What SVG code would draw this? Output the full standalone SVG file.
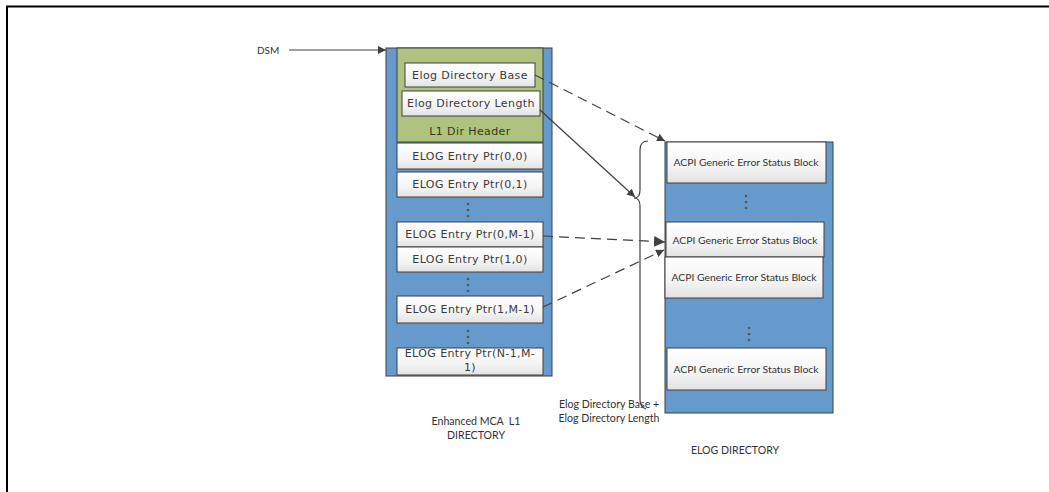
<svg xmlns="http://www.w3.org/2000/svg" width="1049" height="492" viewBox="0 0 1049 492">
<style>
.blue{fill:#6699cc;stroke:#404040;stroke-width:1}
.green{fill:#afc27f;stroke:#404040;stroke-width:1}
.box{fill:url(#wg);stroke:#404040;stroke-width:1}
.lt{font-family:"DejaVu Sans",Verdana,sans-serif;font-size:11px;letter-spacing:0.4px;fill:#3a3a3a;text-anchor:middle}
.rt{font-family:Lato,"Open Sans",sans-serif;font-size:10.4px;fill:#333;text-anchor:middle}
.cap{font-family:Lato,"Open Sans",sans-serif;font-size:10.6px;fill:#333;text-anchor:middle}
.dot{fill:#555}
.con{fill:none;stroke:#404040;stroke-width:1.2}
.dash{stroke-dasharray:10 6}
</style>
<defs>
<linearGradient id="wg" x1="0" y1="0" x2="0" y2="1">
<stop offset="0" stop-color="#ffffff"/>
<stop offset="0.6" stop-color="#f4f4f4"/>
<stop offset="1" stop-color="#e2e2e2"/>
</linearGradient>
<clipPath id="clipLast"><rect x="397" y="348" width="146" height="27"/></clipPath>
<marker id="ah" viewBox="0 0 10 10" refX="10" refY="5" markerWidth="8" markerHeight="8" markerUnits="userSpaceOnUse" orient="auto">
<path d="M0,0 L10,5 L0,10 z" fill="#404040"/>
</marker>
<marker id="ahb" viewBox="0 0 10 10" refX="10" refY="5" markerWidth="11" markerHeight="11" markerUnits="userSpaceOnUse" orient="auto">
<path d="M0,0 L10,5 L0,10 z" fill="#404040"/>
</marker>
</defs>
<rect x="0" y="0" width="1049" height="492" fill="#ffffff"/>
<path d="M7,492 L7,6.5 L1049,6.5" fill="none" stroke="#000" stroke-width="2"/>

<g id="dsm"><text x="257" y="54" class="cap" style="text-anchor:start;font-size:10px">DSM</text></g>

<g id="l1dir">
<rect class="blue" x="386" y="48" width="166" height="328"/>
<rect class="green" x="397" y="48" width="146" height="94"/>
<text class="lt" x="470" y="135" style="fill:#2f3a1a">L1 Dir Header</text>
</g>
<g id="elogBase"><rect class="box" x="405" y="63" width="130" height="24"/><text class="lt" x="470" y="79">Elog Directory Base</text></g>
<g id="elogLength"><rect class="box" x="402" y="91" width="138" height="25"/><text class="lt" x="471" y="107">Elog Directory Length</text></g>
<g id="ptr00"><rect class="box" x="397" y="143" width="146" height="26"/><text class="lt" x="470" y="160">ELOG Entry Ptr(0,0)</text></g>
<g id="ptr01"><rect class="box" x="397" y="172" width="146" height="25"/><text class="lt" x="470" y="188">ELOG Entry Ptr(0,1)</text></g>
<g id="dots1"><circle class="dot" cx="468" cy="204" r="1.3"/><circle class="dot" cx="468" cy="210" r="1.3"/><circle class="dot" cx="468" cy="216" r="1.3"/></g>
<g id="ptr0m1"><rect class="box" x="397" y="222" width="146" height="25"/><text class="lt" x="470" y="238">ELOG Entry Ptr(0,M-1)</text></g>
<g id="ptr10"><rect class="box" x="397" y="247" width="146" height="25"/><text class="lt" x="470" y="263">ELOG Entry Ptr(1,0)</text></g>
<g id="dots2"><circle class="dot" cx="468" cy="279" r="1.3"/><circle class="dot" cx="468" cy="285" r="1.3"/><circle class="dot" cx="468" cy="291" r="1.3"/></g>
<g id="ptr1m1"><rect class="box" x="397" y="296" width="146" height="27"/><text class="lt" x="470" y="313">ELOG Entry Ptr(1,M-1)</text></g>
<g id="dots3"><circle class="dot" cx="468" cy="331" r="1.3"/><circle class="dot" cx="468" cy="337" r="1.3"/><circle class="dot" cx="468" cy="343" r="1.3"/></g>
<g id="ptrn1m1"><rect class="box" x="397" y="348" width="146" height="27"/><g clip-path="url(#clipLast)"><text class="lt" x="470" y="357">ELOG Entry Ptr(N-1,M-</text><text class="lt" x="470" y="371">1)</text></g></g>

<g id="elogdir">
<rect class="blue" x="665" y="142" width="168" height="271"/>
</g>
<g id="acpi1"><rect class="box" x="667" y="142" width="159" height="41"/><text class="rt" x="746" y="166">ACPI Generic Error Status Block</text></g>
<g id="dots4"><circle class="dot" cx="746" cy="196" r="1.3"/><circle class="dot" cx="746" cy="202" r="1.3"/><circle class="dot" cx="746" cy="208" r="1.3"/></g>
<g id="acpi2"><rect class="box" x="666" y="222" width="158" height="35"/><text class="rt" x="745" y="244">ACPI Generic Error Status Block</text></g>
<g id="acpi3"><rect class="box" x="665" y="257" width="158" height="41"/><text class="rt" x="744" y="281">ACPI Generic Error Status Block</text></g>
<g id="dots5"><circle class="dot" cx="749" cy="328" r="1.3"/><circle class="dot" cx="749" cy="334" r="1.3"/><circle class="dot" cx="749" cy="340" r="1.3"/></g>
<g id="acpi4"><rect class="box" x="667" y="348" width="159" height="42"/><text class="rt" x="746" y="373">ACPI Generic Error Status Block</text></g>

<g id="labels">
<text class="cap" x="476" y="425" xml:space="preserve">Enhanced MCA  L1</text>
<text class="cap" x="476" y="439">DIRECTORY</text>
<text class="cap" x="609" y="408">Elog Directory Base +</text>
<text class="cap" x="609" y="422">Elog Directory Length</text>
<text class="cap" x="735" y="454">ELOG DIRECTORY</text>
</g>

<g id="connectors">
<line class="con" x1="289" y1="50" x2="386" y2="50" marker-end="url(#ah)"/>
<line class="con dash" x1="535" y1="75" x2="665" y2="141" marker-end="url(#ah)"/>
<line class="con" x1="540" y1="110" x2="635" y2="197" marker-end="url(#ah)"/>
<line class="con dash" x1="543" y1="236" x2="665" y2="242" marker-end="url(#ahb)"/>
<line class="con dash" x1="543" y1="307" x2="664" y2="250" marker-end="url(#ah)"/>
<path class="con" d="M648,141 Q640,141 640,150 L640,190 Q640,198 634,198 Q640,198 640,206 L640,400 Q640,407 646,409"/>
</g>
</svg>
